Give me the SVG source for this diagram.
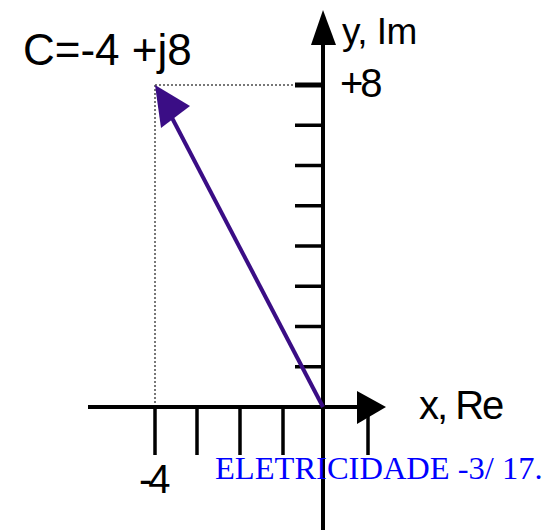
<svg xmlns="http://www.w3.org/2000/svg" width="557" height="530" viewBox="0 0 557 530">
<style>
.ax{stroke:#000;stroke-width:4;fill:none}
.tk{stroke:#000;stroke-width:3.5;fill:none}
.dot{stroke:#777;stroke-width:2;stroke-dasharray:2 2;fill:none}
.lbl{font-family:"Liberation Sans",Arial,sans-serif;fill:#000}
</style>
<rect width="557" height="530" fill="#fff"/>
<g id="connectors">
<line class="dot" x1="155" y1="85" x2="296" y2="85"/>
<line class="dot" x1="155" y1="85" x2="155" y2="407"/>
</g>
<g id="y-axis">
<line class="ax" x1="323" y1="40" x2="323" y2="530"/>
<polygon points="323,10 311,45 336,45" fill="#000"/>
<line x1="295" y1="85" x2="323" y2="85" stroke="#000" stroke-width="5"/>
<line class="tk" x1="295" y1="125.25" x2="323" y2="125.25"/>
<line class="tk" x1="295" y1="165.5" x2="323" y2="165.5"/>
<line class="tk" x1="295" y1="205.75" x2="323" y2="205.75"/>
<line class="tk" x1="295" y1="246" x2="323" y2="246"/>
<line class="tk" x1="295" y1="286.25" x2="323" y2="286.25"/>
<line class="tk" x1="295" y1="326.5" x2="323" y2="326.5"/>
<line class="tk" x1="295" y1="366.75" x2="323" y2="366.75"/>
<text class="lbl" x="342" y="44" font-size="37" letter-spacing="-0.5">y, Im</text>
<text class="lbl" x="340" y="97" font-size="40" letter-spacing="-3">+8</text>
</g>
<g id="x-axis">
<line class="ax" x1="88" y1="407" x2="365" y2="407"/>
<polygon points="386,407 357,391 357,424" fill="#000"/>
<line class="tk" x1="155" y1="407" x2="155" y2="455"/>
<line class="tk" x1="197" y1="407" x2="197" y2="455"/>
<line class="tk" x1="240" y1="407" x2="240" y2="455"/>
<line class="tk" x1="283" y1="407" x2="283" y2="455"/>
<line class="tk" x1="368" y1="407" x2="368" y2="455"/>
<text class="lbl" x="419" y="419" font-size="40" letter-spacing="-2">x, Re</text>
<text class="lbl" x="139" y="493" font-size="40" letter-spacing="-4">-4</text>
</g>
<g id="vector">
<line x1="323" y1="407" x2="170" y2="114" stroke="#3a0d85" stroke-width="4"/>
<polygon points="155,85 190,106 161,128" fill="#3a0d85"/>
</g>
<g id="label-c">
<text class="lbl" x="23" y="65" font-size="44">C=-4 +j8</text>
</g>
<g id="footer">
<text x="215" y="479" font-family="'Liberation Serif','Times New Roman',serif" font-size="32.5" fill="#0000ff">ELETRICIDADE -3/ 17.</text>
</g>
</svg>
